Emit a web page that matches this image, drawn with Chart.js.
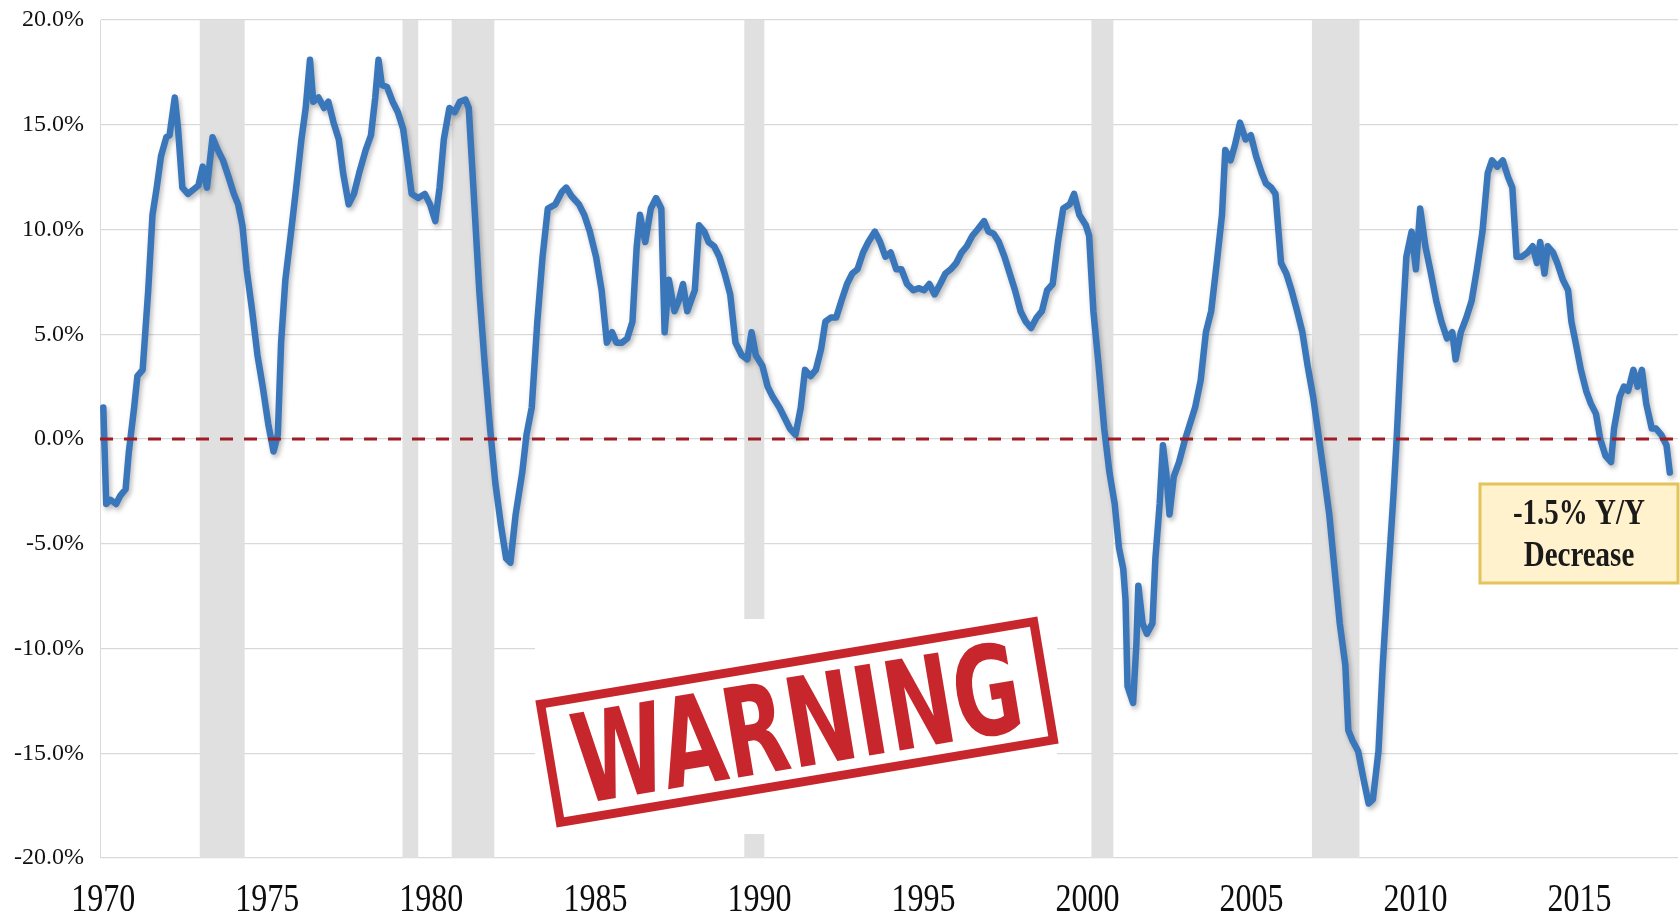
<!DOCTYPE html>
<html>
<head>
<meta charset="utf-8">
<style>
  html, body { margin: 0; padding: 0; background: #fff; }
  #wrap { width: 1680px; height: 917px; }
</style>
</head>
<body>
<div id="wrap"><canvas id="chart" width="1680" height="917"></canvas></div>
<script src="https://cdn.jsdelivr.net/npm/chart.js@4.4.1/dist/chart.umd.min.js"></script>
<script>
// axis labels
const tickYears = [1970, 1975, 1980, 1985, 1990, 1995, 2000, 2005, 2010, 2015];

// shaded recessions (in axis years)
const recessionStart = [1972.94, 1979.12, 1980.62, 1989.54, 2000.12, 2006.84];
const recessionEnd   = [1974.31, 1979.60, 1981.92, 1990.15, 2000.79, 2008.29];

// Y/Y % change
const years = [
  1970.00,1970.09,1970.22,1970.39,1970.52,1970.68,1970.78,1970.94,1971.04,1971.20,
  1971.37,1971.50,1971.63,1971.76,1971.92,1972.02,1972.18,1972.28,1972.41,1972.58,
  1972.74,1972.90,1973.03,1973.16,1973.33,1973.49,1973.65,1973.82,1973.98,1974.11,
  1974.24,1974.37,1974.54,1974.70,1974.86,1975.03,1975.19,1975.32,1975.42,1975.55,
  1975.71,1975.88,1976.04,1976.17,1976.30,1976.40,1976.56,1976.73,1976.86,1977.02,
  1977.18,1977.31,1977.48,1977.64,1977.80,1978.00,1978.16,1978.29,1978.39,1978.49,
  1978.65,1978.82,1978.98,1979.14,1979.27,1979.40,1979.60,1979.80,1979.96,1980.12,
  1980.25,1980.38,1980.55,1980.71,1980.87,1981.04,1981.14,1981.27,1981.46,1981.63,
  1981.79,1981.95,1982.12,1982.28,1982.41,1982.57,1982.77,1982.90,1983.06,1983.23,
  1983.39,1983.55,1983.78,1983.98,1984.11,1984.27,1984.50,1984.66,1984.83,1985.02,
  1985.19,1985.35,1985.51,1985.64,1985.81,1985.97,1986.13,1986.26,1986.36,1986.52,
  1986.69,1986.85,1987.01,1987.11,1987.24,1987.41,1987.54,1987.67,1987.80,1988.03,
  1988.16,1988.32,1988.45,1988.62,1988.78,1988.94,1989.11,1989.27,1989.46,1989.63,
  1989.76,1989.89,1990.09,1990.25,1990.41,1990.61,1990.77,1990.93,1991.10,1991.26,
  1991.39,1991.56,1991.72,1991.88,1992.01,1992.18,1992.34,1992.50,1992.67,1992.83,
  1992.99,1993.16,1993.32,1993.52,1993.68,1993.84,1994.00,1994.17,1994.33,1994.50,
  1994.69,1994.85,1995.02,1995.18,1995.34,1995.51,1995.67,1995.83,1996.00,1996.16,
  1996.32,1996.49,1996.65,1996.85,1996.98,1997.14,1997.30,1997.47,1997.63,1997.79,
  1997.96,1998.12,1998.28,1998.45,1998.61,1998.77,1998.94,1999.10,1999.26,1999.46,
  1999.59,1999.75,1999.95,2000.05,2000.18,2000.34,2000.51,2000.67,2000.83,2000.96,
  2001.09,2001.16,2001.22,2001.39,2001.49,2001.55,2001.68,2001.81,2001.98,2002.07,
  2002.20,2002.30,2002.40,2002.50,2002.63,2002.79,2002.96,2003.12,2003.28,2003.45,
  2003.61,2003.77,2003.94,2004.10,2004.20,2004.36,2004.49,2004.65,2004.82,2004.98,
  2005.14,2005.31,2005.44,2005.60,2005.73,2005.90,2006.06,2006.22,2006.39,2006.55,
  2006.71,2006.88,2007.04,2007.20,2007.37,2007.53,2007.69,2007.86,2007.95,2008.08,
  2008.25,2008.41,2008.57,2008.70,2008.87,2009.00,2009.16,2009.33,2009.42,2009.55,
  2009.72,2009.88,2010.01,2010.14,2010.30,2010.47,2010.63,2010.79,2010.96,2011.12,
  2011.22,2011.38,2011.55,2011.71,2011.87,2012.04,2012.20,2012.33,2012.49,2012.66,
  2012.82,2012.95,2013.08,2013.24,2013.41,2013.57,2013.70,2013.80,2013.93,2014.03,
  2014.19,2014.32,2014.49,2014.65,2014.75,2014.88,2015.04,2015.20,2015.34,2015.50,
  2015.63,2015.79,2015.96,2016.05,2016.22,2016.35,2016.48,2016.64,2016.77,2016.90,
  2017.03,2017.20,2017.33,2017.49,2017.65,2017.75
];
const yoy = [
  1.5,-3.1,-2.9,-3.1,-2.7,-2.4,-0.6,1.5,3.0,3.3,
  7.1,10.7,12.0,13.5,14.4,14.5,16.3,14.8,12.0,11.7,
  11.9,12.1,13.0,12.0,14.4,13.8,13.3,12.5,11.7,11.2,
  10.2,8.1,6.1,4.0,2.5,0.7,-0.6,0.2,4.6,7.6,
  9.7,12.0,14.3,15.8,18.1,16.1,16.3,15.8,16.1,15.1,
  14.3,12.7,11.2,11.7,12.7,13.8,14.5,16.3,18.1,16.9,
  16.8,16.1,15.6,14.8,13.3,11.7,11.5,11.7,11.2,10.4,
  12.0,14.3,15.8,15.6,16.1,16.2,15.8,12.3,7.1,3.5,
  0.5,-2.1,-4.1,-5.7,-5.9,-3.6,-1.6,0.2,1.5,5.6,
  8.7,11.0,11.2,11.8,12.0,11.6,11.2,10.7,9.9,8.7,
  7.1,4.6,5.1,4.6,4.6,4.8,5.6,9.2,10.7,9.4,
  11.0,11.5,11.0,5.1,7.6,6.1,6.6,7.4,6.1,7.1,
  10.2,9.9,9.4,9.2,8.7,7.9,6.9,4.6,4.0,3.8,
  5.1,4.0,3.5,2.5,2.0,1.5,1.0,0.5,0.2,1.5,
  3.3,3.0,3.3,4.3,5.6,5.8,5.8,6.6,7.4,7.9,
  8.1,8.9,9.4,9.9,9.4,8.7,8.9,8.1,8.1,7.4,
  7.1,7.2,7.1,7.4,6.9,7.4,7.9,8.1,8.4,8.9,
  9.2,9.7,10.0,10.4,9.9,9.8,9.4,8.7,7.9,7.1,
  6.1,5.6,5.3,5.8,6.1,7.1,7.4,9.4,11.0,11.2,
  11.7,10.7,10.2,9.7,6.1,3.5,0.5,-1.6,-3.1,-5.2,
  -6.2,-7.7,-11.8,-12.6,-9.8,-7.0,-8.8,-9.3,-8.8,-5.7,
  -3.1,-0.3,-1.6,-3.6,-1.8,-1.1,-0.1,0.7,1.5,2.8,
  5.1,6.1,8.4,10.7,13.8,13.3,14.0,15.1,14.3,14.5,
  13.5,12.7,12.2,12.0,11.7,8.4,7.9,7.1,6.1,5.1,
  3.5,2.0,0.2,-1.6,-3.6,-6.2,-8.8,-10.8,-13.9,-14.4,
  -14.9,-16.2,-17.4,-17.2,-14.9,-10.8,-6.7,-2.6,-0.1,4.0,
  8.7,9.9,8.1,11.0,9.2,7.9,6.6,5.6,4.8,5.1,
  3.8,5.1,5.8,6.6,8.1,9.9,12.7,13.3,13.0,13.3,
  12.5,12.0,8.7,8.7,8.9,9.2,8.4,9.4,7.9,9.2,
  8.9,8.4,7.6,7.1,5.6,4.6,3.3,2.3,1.7,1.2,
  0.0,-0.8,-1.1,0.5,2.0,2.5,2.3,3.3,2.5,3.3,
  1.7,0.5,0.5,0.2,-0.3,-1.6
];

const calloutLines = ['-1.5% Y/Y', 'Decrease'];
const stampText = 'WARNING';

const recessionBars = {
  id: 'recessionBars',
  beforeDatasetsDraw(chart) {
    const {ctx, chartArea, scales: {x}} = chart;
    ctx.save();
    ctx.fillStyle = '#E0E0E0';
    recessionStart.forEach((s, i) => {
      const x0 = x.getPixelForValue(s);
      const x1 = x.getPixelForValue(recessionEnd[i]);
      ctx.fillRect(x0, chartArea.top, x1 - x0, chartArea.bottom - chartArea.top);
    });
    ctx.restore();
  }
};

const lineShadow = {
  id: 'lineShadow',
  beforeDatasetDraw(chart, args) {
    if (args.index !== 0) return;
    const ctx = chart.ctx;
    ctx.save();
    ctx.shadowColor = 'rgba(0,0,0,0.28)';
    ctx.shadowBlur = 5;
    ctx.shadowOffsetX = 2;
    ctx.shadowOffsetY = 3;
  },
  afterDatasetDraw(chart, args) {
    if (args.index !== 0) return;
    chart.ctx.restore();
  }
};

// year labels drawn a little taller than wide, like the original
const xLabels = {
  id: 'xLabels',
  afterDraw(chart) {
    const {ctx, chartArea, scales: {x}} = chart;
    ctx.save();
    ctx.fillStyle = '#0D0D0D';
    ctx.font = '32px "Liberation Serif"';
    ctx.textAlign = 'center';
    ctx.textBaseline = 'middle';
    x.ticks.forEach(t => {
      ctx.save();
      ctx.translate(x.getPixelForValue(t.value), chartArea.bottom + 42);
      ctx.scale(1, 1.25);
      ctx.fillText(String(t.value), 0, 0);
      ctx.restore();
    });
    ctx.restore();
  }
};

const overlays = {
  id: 'overlays',
  afterDraw(chart) {
    const ctx = chart.ctx;

    // callout box
    ctx.save();
    ctx.fillStyle = '#FFF2CC';
    ctx.strokeStyle = '#E2C45A';
    ctx.lineWidth = 3;
    ctx.fillRect(1480, 484, 198, 99);
    ctx.strokeRect(1480, 484, 198, 99);
    ctx.fillStyle = '#1A1A1A';
    ctx.font = 'bold 29px "Liberation Serif"';
    ctx.textAlign = 'center';
    ctx.textBaseline = 'middle';
    [515, 557].forEach((cy, i) => {
      ctx.save();
      ctx.translate(1579, cy);
      ctx.scale(1, 1.2);
      ctx.fillText(calloutLines[i], 0, 0);
      ctx.restore();
    });
    ctx.restore();

    // stamp
    ctx.save();
    ctx.fillStyle = '#fff';
    ctx.fillRect(535, 619, 522, 215);
    ctx.translate(797, 722);
    ctx.rotate(-9.5 * Math.PI / 180);
    ctx.strokeStyle = '#C7262D';
    ctx.lineWidth = 9;
    ctx.strokeRect(-250, -60, 500, 120);
    ctx.font = 'bold 124px "DejaVu Sans"';
    const w = ctx.measureText(stampText).width;
    ctx.scale(452 / w, 1);
    ctx.fillStyle = '#C7262D';
    ctx.textAlign = 'center';
    ctx.textBaseline = 'alphabetic';
    ctx.fillText(stampText, 0, 45);
    ctx.restore();
  }
};

const data = {
  datasets: [
    {
      label: 'Y/Y',
      data: years.map((x, i) => ({x: x, y: yoy[i]})),
      borderColor: '#3A76BA',
      borderWidth: 6.5,
      borderJoinStyle: 'round',
      borderCapStyle: 'round',
      pointRadius: 0,
      tension: 0,
      order: 1
    },
    {
      label: 'zero',
      data: [{x: 1969.9, y: 0}, {x: 2018.0, y: 0}],
      borderColor: '#9E1C22',
      borderWidth: 3,
      borderDash: [13, 11],
      pointRadius: 0,
      order: 0
    }
  ]
};

const config = {
  type: 'line',
  data: data,
  options: {
    responsive: false,
    animation: false,
    devicePixelRatio: 1,
    layout: {
      autoPadding: false,
      padding: {top: 20, right: 2, left: 0, bottom: 0}
    },
    plugins: {
      legend: {display: false},
      tooltip: {enabled: false}
    },
    scales: {
      x: {
        type: 'linear',
        min: 1969.9,
        max: 2018.0,
        afterBuildTicks: s => { s.ticks = tickYears.map(v => ({value: v})); },
        ticks: {
          display: false,
          maxRotation: 0,
          autoSkip: false
        },
        grid: {display: false},
        border: {display: false},
        afterFit: s => { s.height = 59; }
      },
      y: {
        min: -20,
        max: 20,
        ticks: {
          stepSize: 5,
          callback: v => v.toFixed(1) + '%',
          font: {family: 'Liberation Serif', size: 24},
          color: '#111',
          padding: 16
        },
        grid: {color: '#D9D9D9', lineWidth: 1.2, drawTicks: false},
        border: {display: true, color: '#DADADA', width: 1},
        afterFit: s => {
          s.width = 100;
          s.paddingTop = 0;
          s.paddingBottom = 0;
        }
      }
    }
  },
  plugins: [recessionBars, lineShadow, xLabels, overlays]
};

const chart = new Chart(document.getElementById('chart'), config);
</script>
</body>
</html>
